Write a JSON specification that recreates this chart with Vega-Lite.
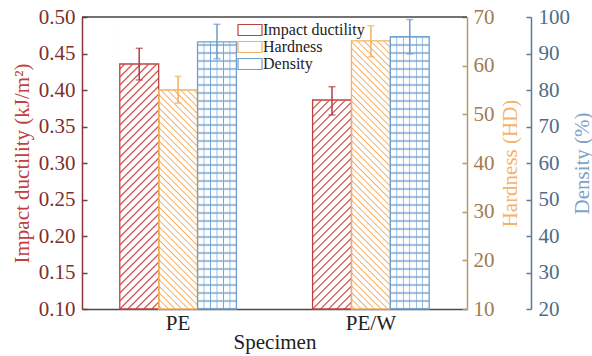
{
"$schema":"https://vega.github.io/schema/vega-lite/v6.json",
"width":385,"height":292,
"autosize":{"type":"none"},
"padding":{"left":82,"top":17,"right":125,"bottom":47},
"config":{"view":{"stroke":null},"font":"Liberation Serif","axis":{"grid":false,"titleFontWeight":"normal","labelFont":"Liberation Serif","titleFont":"Liberation Serif","labelFontSize":21,"titleFontSize":21,"tickWidth":1.5,"domainWidth":1.5},"legend":{"labelFont":"Liberation Serif","titleFont":"Liberation Serif"}},
"data":{"values":[
{"Specimen":"PE","Property":"Impact ductility","value":0.4356,"lo":0.4137,"hi":0.4571},
{"Specimen":"PE","Property":"Hardness","value":55.0,"lo":52.3,"hi":57.8},
{"Specimen":"PE","Property":"Density","value":93.2,"lo":88.6,"hi":98.0},
{"Specimen":"PE/W","Property":"Impact ductility","value":0.3863,"lo":0.3658,"hi":0.4045},
{"Specimen":"PE/W","Property":"Hardness","value":65.1,"lo":61.8,"hi":68.2},
{"Specimen":"PE/W","Property":"Density","value":94.6,"lo":89.9,"hi":99.3}
]},
"resolve":{"scale":{"y":"independent"},"axis":{"y":"independent"}},
"layer":[
{"transform":[{"filter":"datum.Property === 'Impact ductility'"}],
 "mark":{"type":"bar","fill":{"gradient":"linear","x1":0,"y1":0,"x2":0.17922,"y2":1.346,"stops":[
{"offset":0.006,"color":"#fff"},{"offset":0.01,"color":"#c33f3e"},{"offset":0.014,"color":"#fff"},
{"offset":0.026,"color":"#fff"},{"offset":0.03,"color":"#c33f3e"},{"offset":0.034,"color":"#fff"},
{"offset":0.046,"color":"#fff"},{"offset":0.05,"color":"#c33f3e"},{"offset":0.054,"color":"#fff"},
{"offset":0.066,"color":"#fff"},{"offset":0.07,"color":"#c33f3e"},{"offset":0.074,"color":"#fff"},
{"offset":0.086,"color":"#fff"},{"offset":0.09,"color":"#c33f3e"},{"offset":0.094,"color":"#fff"},
{"offset":0.106,"color":"#fff"},{"offset":0.11,"color":"#c33f3e"},{"offset":0.114,"color":"#fff"},
{"offset":0.126,"color":"#fff"},{"offset":0.13,"color":"#c33f3e"},{"offset":0.134,"color":"#fff"},
{"offset":0.146,"color":"#fff"},{"offset":0.15,"color":"#c33f3e"},{"offset":0.154,"color":"#fff"},
{"offset":0.166,"color":"#fff"},{"offset":0.17,"color":"#c33f3e"},{"offset":0.174,"color":"#fff"},
{"offset":0.186,"color":"#fff"},{"offset":0.19,"color":"#c33f3e"},{"offset":0.194,"color":"#fff"},
{"offset":0.206,"color":"#fff"},{"offset":0.21,"color":"#c33f3e"},{"offset":0.214,"color":"#fff"},
{"offset":0.226,"color":"#fff"},{"offset":0.23,"color":"#c33f3e"},{"offset":0.234,"color":"#fff"},
{"offset":0.246,"color":"#fff"},{"offset":0.25,"color":"#c33f3e"},{"offset":0.254,"color":"#fff"},
{"offset":0.266,"color":"#fff"},{"offset":0.27,"color":"#c33f3e"},{"offset":0.274,"color":"#fff"},
{"offset":0.286,"color":"#fff"},{"offset":0.29,"color":"#c33f3e"},{"offset":0.294,"color":"#fff"},
{"offset":0.306,"color":"#fff"},{"offset":0.31,"color":"#c33f3e"},{"offset":0.314,"color":"#fff"},
{"offset":0.326,"color":"#fff"},{"offset":0.33,"color":"#c33f3e"},{"offset":0.334,"color":"#fff"},
{"offset":0.346,"color":"#fff"},{"offset":0.35,"color":"#c33f3e"},{"offset":0.354,"color":"#fff"},
{"offset":0.366,"color":"#fff"},{"offset":0.37,"color":"#c33f3e"},{"offset":0.374,"color":"#fff"},
{"offset":0.386,"color":"#fff"},{"offset":0.39,"color":"#c33f3e"},{"offset":0.394,"color":"#fff"},
{"offset":0.406,"color":"#fff"},{"offset":0.41,"color":"#c33f3e"},{"offset":0.414,"color":"#fff"},
{"offset":0.426,"color":"#fff"},{"offset":0.43,"color":"#c33f3e"},{"offset":0.434,"color":"#fff"},
{"offset":0.446,"color":"#fff"},{"offset":0.45,"color":"#c33f3e"},{"offset":0.454,"color":"#fff"},
{"offset":0.466,"color":"#fff"},{"offset":0.47,"color":"#c33f3e"},{"offset":0.474,"color":"#fff"},
{"offset":0.486,"color":"#fff"},{"offset":0.49,"color":"#c33f3e"},{"offset":0.494,"color":"#fff"},
{"offset":0.506,"color":"#fff"},{"offset":0.51,"color":"#c33f3e"},{"offset":0.514,"color":"#fff"},
{"offset":0.526,"color":"#fff"},{"offset":0.53,"color":"#c33f3e"},{"offset":0.534,"color":"#fff"},
{"offset":0.546,"color":"#fff"},{"offset":0.55,"color":"#c33f3e"},{"offset":0.554,"color":"#fff"},
{"offset":0.566,"color":"#fff"},{"offset":0.57,"color":"#c33f3e"},{"offset":0.574,"color":"#fff"},
{"offset":0.586,"color":"#fff"},{"offset":0.59,"color":"#c33f3e"},{"offset":0.594,"color":"#fff"},
{"offset":0.606,"color":"#fff"},{"offset":0.61,"color":"#c33f3e"},{"offset":0.614,"color":"#fff"},
{"offset":0.626,"color":"#fff"},{"offset":0.63,"color":"#c33f3e"},{"offset":0.634,"color":"#fff"},
{"offset":0.646,"color":"#fff"},{"offset":0.65,"color":"#c33f3e"},{"offset":0.654,"color":"#fff"},
{"offset":0.666,"color":"#fff"},{"offset":0.67,"color":"#c33f3e"},{"offset":0.674,"color":"#fff"},
{"offset":0.686,"color":"#fff"},{"offset":0.69,"color":"#c33f3e"},{"offset":0.694,"color":"#fff"},
{"offset":0.706,"color":"#fff"},{"offset":0.71,"color":"#c33f3e"},{"offset":0.714,"color":"#fff"},
{"offset":0.726,"color":"#fff"},{"offset":0.73,"color":"#c33f3e"},{"offset":0.734,"color":"#fff"},
{"offset":0.746,"color":"#fff"},{"offset":0.75,"color":"#c33f3e"},{"offset":0.754,"color":"#fff"},
{"offset":0.766,"color":"#fff"},{"offset":0.77,"color":"#c33f3e"},{"offset":0.774,"color":"#fff"},
{"offset":0.786,"color":"#fff"},{"offset":0.79,"color":"#c33f3e"},{"offset":0.794,"color":"#fff"},
{"offset":0.806,"color":"#fff"},{"offset":0.81,"color":"#c33f3e"},{"offset":0.814,"color":"#fff"},
{"offset":0.826,"color":"#fff"},{"offset":0.83,"color":"#c33f3e"},{"offset":0.834,"color":"#fff"}
 ]}},
 "encoding":{
  "x":{"field":"Specimen","type":"nominal","scale":{"paddingInner":0.395,"paddingOuter":0.196},"axis":{"title":"Specimen","orient":"bottom","labelAngle":0,"labelColor":"#222","labelPadding":7,"tickSize":-4,"tickWidth":1,"tickColor":"#222","domainColor":"#4a4a4a","titleColor":"#222","titlePadding":-2}},
  "xOffset":{"field":"Property","type":"nominal","scale":{"domain":["Impact ductility","Hardness","Density"],"paddingInner":0,"paddingOuter":0}},
  "y":{"datum":0.5,"type":"quantitative","scale":{"domain":[0.1,0.5],"nice":false},"axis":{"orient":"left","title":"Impact ductility (kJ/m²)","values":[0.1,0.15,0.2,0.25,0.3,0.35,0.4,0.45,0.5],"format":".2f","tickSize":-5,"tickColor":"#8a3535","domainColor":"#8a3535","labelColor":"#7d3030","labelPadding":12,"titleColor":"#c0413f","titleAngle":-90,"titleX":-60,"titleY":146,"titleAlign":"center","titleBaseline":"middle"}},
  "y2":{"datum":0.1}}},
{"transform":[{"filter":"datum.Property === 'Hardness'"}],
 "mark":{"type":"bar","fill":{"gradient":"linear","x1":0,"y1":1,"x2":0.14786,"y2":-0.11045,"stops":[
{"offset":0.006,"color":"#fff"},{"offset":0.01,"color":"#f3ad5f"},{"offset":0.014,"color":"#fff"},
{"offset":0.026,"color":"#fff"},{"offset":0.03,"color":"#f3ad5f"},{"offset":0.034,"color":"#fff"},
{"offset":0.046,"color":"#fff"},{"offset":0.05,"color":"#f3ad5f"},{"offset":0.054,"color":"#fff"},
{"offset":0.066,"color":"#fff"},{"offset":0.07,"color":"#f3ad5f"},{"offset":0.074,"color":"#fff"},
{"offset":0.086,"color":"#fff"},{"offset":0.09,"color":"#f3ad5f"},{"offset":0.094,"color":"#fff"},
{"offset":0.106,"color":"#fff"},{"offset":0.11,"color":"#f3ad5f"},{"offset":0.114,"color":"#fff"},
{"offset":0.126,"color":"#fff"},{"offset":0.13,"color":"#f3ad5f"},{"offset":0.134,"color":"#fff"},
{"offset":0.146,"color":"#fff"},{"offset":0.15,"color":"#f3ad5f"},{"offset":0.154,"color":"#fff"},
{"offset":0.166,"color":"#fff"},{"offset":0.17,"color":"#f3ad5f"},{"offset":0.174,"color":"#fff"},
{"offset":0.186,"color":"#fff"},{"offset":0.19,"color":"#f3ad5f"},{"offset":0.194,"color":"#fff"},
{"offset":0.206,"color":"#fff"},{"offset":0.21,"color":"#f3ad5f"},{"offset":0.214,"color":"#fff"},
{"offset":0.226,"color":"#fff"},{"offset":0.23,"color":"#f3ad5f"},{"offset":0.234,"color":"#fff"},
{"offset":0.246,"color":"#fff"},{"offset":0.25,"color":"#f3ad5f"},{"offset":0.254,"color":"#fff"},
{"offset":0.266,"color":"#fff"},{"offset":0.27,"color":"#f3ad5f"},{"offset":0.274,"color":"#fff"},
{"offset":0.286,"color":"#fff"},{"offset":0.29,"color":"#f3ad5f"},{"offset":0.294,"color":"#fff"},
{"offset":0.306,"color":"#fff"},{"offset":0.31,"color":"#f3ad5f"},{"offset":0.314,"color":"#fff"},
{"offset":0.326,"color":"#fff"},{"offset":0.33,"color":"#f3ad5f"},{"offset":0.334,"color":"#fff"},
{"offset":0.346,"color":"#fff"},{"offset":0.35,"color":"#f3ad5f"},{"offset":0.354,"color":"#fff"},
{"offset":0.366,"color":"#fff"},{"offset":0.37,"color":"#f3ad5f"},{"offset":0.374,"color":"#fff"},
{"offset":0.386,"color":"#fff"},{"offset":0.39,"color":"#f3ad5f"},{"offset":0.394,"color":"#fff"},
{"offset":0.406,"color":"#fff"},{"offset":0.41,"color":"#f3ad5f"},{"offset":0.414,"color":"#fff"},
{"offset":0.426,"color":"#fff"},{"offset":0.43,"color":"#f3ad5f"},{"offset":0.434,"color":"#fff"},
{"offset":0.446,"color":"#fff"},{"offset":0.45,"color":"#f3ad5f"},{"offset":0.454,"color":"#fff"},
{"offset":0.466,"color":"#fff"},{"offset":0.47,"color":"#f3ad5f"},{"offset":0.474,"color":"#fff"},
{"offset":0.486,"color":"#fff"},{"offset":0.49,"color":"#f3ad5f"},{"offset":0.494,"color":"#fff"},
{"offset":0.506,"color":"#fff"},{"offset":0.51,"color":"#f3ad5f"},{"offset":0.514,"color":"#fff"},
{"offset":0.526,"color":"#fff"},{"offset":0.53,"color":"#f3ad5f"},{"offset":0.534,"color":"#fff"},
{"offset":0.546,"color":"#fff"},{"offset":0.55,"color":"#f3ad5f"},{"offset":0.554,"color":"#fff"},
{"offset":0.566,"color":"#fff"},{"offset":0.57,"color":"#f3ad5f"},{"offset":0.574,"color":"#fff"},
{"offset":0.586,"color":"#fff"},{"offset":0.59,"color":"#f3ad5f"},{"offset":0.594,"color":"#fff"},
{"offset":0.606,"color":"#fff"},{"offset":0.61,"color":"#f3ad5f"},{"offset":0.614,"color":"#fff"},
{"offset":0.626,"color":"#fff"},{"offset":0.63,"color":"#f3ad5f"},{"offset":0.634,"color":"#fff"},
{"offset":0.646,"color":"#fff"},{"offset":0.65,"color":"#f3ad5f"},{"offset":0.654,"color":"#fff"},
{"offset":0.666,"color":"#fff"},{"offset":0.67,"color":"#f3ad5f"},{"offset":0.674,"color":"#fff"},
{"offset":0.686,"color":"#fff"},{"offset":0.69,"color":"#f3ad5f"},{"offset":0.694,"color":"#fff"},
{"offset":0.706,"color":"#fff"},{"offset":0.71,"color":"#f3ad5f"},{"offset":0.714,"color":"#fff"},
{"offset":0.726,"color":"#fff"},{"offset":0.73,"color":"#f3ad5f"},{"offset":0.734,"color":"#fff"},
{"offset":0.746,"color":"#fff"},{"offset":0.75,"color":"#f3ad5f"},{"offset":0.754,"color":"#fff"},
{"offset":0.766,"color":"#fff"},{"offset":0.77,"color":"#f3ad5f"},{"offset":0.774,"color":"#fff"},
{"offset":0.786,"color":"#fff"},{"offset":0.79,"color":"#f3ad5f"},{"offset":0.794,"color":"#fff"},
{"offset":0.806,"color":"#fff"},{"offset":0.81,"color":"#f3ad5f"},{"offset":0.814,"color":"#fff"},
{"offset":0.826,"color":"#fff"},{"offset":0.83,"color":"#f3ad5f"},{"offset":0.834,"color":"#fff"},
{"offset":0.846,"color":"#fff"},{"offset":0.85,"color":"#f3ad5f"},{"offset":0.854,"color":"#fff"},
{"offset":0.866,"color":"#fff"},{"offset":0.87,"color":"#f3ad5f"},{"offset":0.874,"color":"#fff"},
{"offset":0.886,"color":"#fff"},{"offset":0.89,"color":"#f3ad5f"},{"offset":0.894,"color":"#fff"},
{"offset":0.906,"color":"#fff"},{"offset":0.91,"color":"#f3ad5f"},{"offset":0.914,"color":"#fff"},
{"offset":0.926,"color":"#fff"},{"offset":0.93,"color":"#f3ad5f"},{"offset":0.934,"color":"#fff"},
{"offset":0.946,"color":"#fff"},{"offset":0.95,"color":"#f3ad5f"},{"offset":0.954,"color":"#fff"},
{"offset":0.966,"color":"#fff"},{"offset":0.97,"color":"#f3ad5f"},{"offset":0.974,"color":"#fff"},
{"offset":0.986,"color":"#fff"},{"offset":0.99,"color":"#f3ad5f"},{"offset":0.994,"color":"#fff"}
 ]}},
 "encoding":{
  "x":{"field":"Specimen","type":"nominal","scale":{"paddingInner":0.395,"paddingOuter":0.196},"axis":{"title":"Specimen","orient":"bottom","labelAngle":0,"labelColor":"#222","labelPadding":7,"tickSize":-4,"tickWidth":1,"tickColor":"#222","domainColor":"#4a4a4a","titleColor":"#222","titlePadding":-2}},
  "xOffset":{"field":"Property","type":"nominal","scale":{"domain":["Impact ductility","Hardness","Density"],"paddingInner":0,"paddingOuter":0}},
  "y":{"datum":70,"type":"quantitative","scale":{"domain":[10,70],"nice":false},"axis":{"orient":"right","title":"Hardness (HD)","values":[10,20,30,40,50,60,70],"tickSize":-5,"tickColor":"#b39a72","domainColor":"#b39a72","labelColor":"#a07c4f","labelPadding":11,"titleColor":"#f5b26b","titleAngle":-90,"titleX":43,"titleY":146,"titleAlign":"center","titleBaseline":"middle"}},
  "y2":{"datum":10}}},
{"transform":[{"filter":"datum.Property === 'Density'"}],
 "mark":{"type":"bar","fill":{"gradient":"linear","x1":0,"y1":0,"x2":0,"y2":1.36986,"stops":[
{"offset":0.006,"color":"#fff"},{"offset":0.01,"color":"#78a4d0"},{"offset":0.014,"color":"#fff"},
{"offset":0.026,"color":"#fff"},{"offset":0.03,"color":"#78a4d0"},{"offset":0.034,"color":"#fff"},
{"offset":0.046,"color":"#fff"},{"offset":0.05,"color":"#78a4d0"},{"offset":0.054,"color":"#fff"},
{"offset":0.066,"color":"#fff"},{"offset":0.07,"color":"#78a4d0"},{"offset":0.074,"color":"#fff"},
{"offset":0.086,"color":"#fff"},{"offset":0.09,"color":"#78a4d0"},{"offset":0.094,"color":"#fff"},
{"offset":0.106,"color":"#fff"},{"offset":0.11,"color":"#78a4d0"},{"offset":0.114,"color":"#fff"},
{"offset":0.126,"color":"#fff"},{"offset":0.13,"color":"#78a4d0"},{"offset":0.134,"color":"#fff"},
{"offset":0.146,"color":"#fff"},{"offset":0.15,"color":"#78a4d0"},{"offset":0.154,"color":"#fff"},
{"offset":0.166,"color":"#fff"},{"offset":0.17,"color":"#78a4d0"},{"offset":0.174,"color":"#fff"},
{"offset":0.186,"color":"#fff"},{"offset":0.19,"color":"#78a4d0"},{"offset":0.194,"color":"#fff"},
{"offset":0.206,"color":"#fff"},{"offset":0.21,"color":"#78a4d0"},{"offset":0.214,"color":"#fff"},
{"offset":0.226,"color":"#fff"},{"offset":0.23,"color":"#78a4d0"},{"offset":0.234,"color":"#fff"},
{"offset":0.246,"color":"#fff"},{"offset":0.25,"color":"#78a4d0"},{"offset":0.254,"color":"#fff"},
{"offset":0.266,"color":"#fff"},{"offset":0.27,"color":"#78a4d0"},{"offset":0.274,"color":"#fff"},
{"offset":0.286,"color":"#fff"},{"offset":0.29,"color":"#78a4d0"},{"offset":0.294,"color":"#fff"},
{"offset":0.306,"color":"#fff"},{"offset":0.31,"color":"#78a4d0"},{"offset":0.314,"color":"#fff"},
{"offset":0.326,"color":"#fff"},{"offset":0.33,"color":"#78a4d0"},{"offset":0.334,"color":"#fff"},
{"offset":0.346,"color":"#fff"},{"offset":0.35,"color":"#78a4d0"},{"offset":0.354,"color":"#fff"},
{"offset":0.366,"color":"#fff"},{"offset":0.37,"color":"#78a4d0"},{"offset":0.374,"color":"#fff"},
{"offset":0.386,"color":"#fff"},{"offset":0.39,"color":"#78a4d0"},{"offset":0.394,"color":"#fff"},
{"offset":0.406,"color":"#fff"},{"offset":0.41,"color":"#78a4d0"},{"offset":0.414,"color":"#fff"},
{"offset":0.426,"color":"#fff"},{"offset":0.43,"color":"#78a4d0"},{"offset":0.434,"color":"#fff"},
{"offset":0.446,"color":"#fff"},{"offset":0.45,"color":"#78a4d0"},{"offset":0.454,"color":"#fff"},
{"offset":0.466,"color":"#fff"},{"offset":0.47,"color":"#78a4d0"},{"offset":0.474,"color":"#fff"},
{"offset":0.486,"color":"#fff"},{"offset":0.49,"color":"#78a4d0"},{"offset":0.494,"color":"#fff"},
{"offset":0.506,"color":"#fff"},{"offset":0.51,"color":"#78a4d0"},{"offset":0.514,"color":"#fff"},
{"offset":0.526,"color":"#fff"},{"offset":0.53,"color":"#78a4d0"},{"offset":0.534,"color":"#fff"},
{"offset":0.546,"color":"#fff"},{"offset":0.55,"color":"#78a4d0"},{"offset":0.554,"color":"#fff"},
{"offset":0.566,"color":"#fff"},{"offset":0.57,"color":"#78a4d0"},{"offset":0.574,"color":"#fff"},
{"offset":0.586,"color":"#fff"},{"offset":0.59,"color":"#78a4d0"},{"offset":0.594,"color":"#fff"},
{"offset":0.606,"color":"#fff"},{"offset":0.61,"color":"#78a4d0"},{"offset":0.614,"color":"#fff"},
{"offset":0.626,"color":"#fff"},{"offset":0.63,"color":"#78a4d0"},{"offset":0.634,"color":"#fff"},
{"offset":0.646,"color":"#fff"},{"offset":0.65,"color":"#78a4d0"},{"offset":0.654,"color":"#fff"},
{"offset":0.666,"color":"#fff"},{"offset":0.67,"color":"#78a4d0"},{"offset":0.674,"color":"#fff"},
{"offset":0.686,"color":"#fff"},{"offset":0.69,"color":"#78a4d0"},{"offset":0.694,"color":"#fff"},
{"offset":0.706,"color":"#fff"},{"offset":0.71,"color":"#78a4d0"},{"offset":0.714,"color":"#fff"},
{"offset":0.726,"color":"#fff"},{"offset":0.73,"color":"#78a4d0"},{"offset":0.734,"color":"#fff"}
 ]}},
 "encoding":{
  "x":{"field":"Specimen","type":"nominal","scale":{"paddingInner":0.395,"paddingOuter":0.196},"axis":{"title":"Specimen","orient":"bottom","labelAngle":0,"labelColor":"#222","labelPadding":7,"tickSize":-4,"tickWidth":1,"tickColor":"#222","domainColor":"#4a4a4a","titleColor":"#222","titlePadding":-2}},
  "xOffset":{"field":"Property","type":"nominal","scale":{"domain":["Impact ductility","Hardness","Density"],"paddingInner":0,"paddingOuter":0}},
  "y":{"datum":100,"type":"quantitative","scale":{"domain":[20,100],"nice":false},"axis":{"orient":"right","offset":64,"title":"Density (%)","values":[20,30,40,50,60,70,80,90,100],"tickSize":-5,"tickColor":"#5e7b96","domainColor":"#5e7b96","labelColor":"#4e6c88","labelPadding":12,"titleColor":"#7ea3c9","titleAngle":-90,"titleX":51,"titleY":146,"titleAlign":"center","titleBaseline":"middle"}},
  "y2":{"datum":20}}},
{"transform":[{"filter":"datum.Property === 'Density'"}],
 "mark":{"type":"bar","fill":{"gradient":"linear","x1":0,"y1":0,"x2":1,"y2":0,"stops":[
{"offset":0.1467,"color":"rgba(120,164,208,0)"},{"offset":0.1667,"color":"#78a4d0"},{"offset":0.1867,"color":"rgba(120,164,208,0)"},
{"offset":0.3133,"color":"rgba(120,164,208,0)"},{"offset":0.3333,"color":"#78a4d0"},{"offset":0.3533,"color":"rgba(120,164,208,0)"},
{"offset":0.48,"color":"rgba(120,164,208,0)"},{"offset":0.5,"color":"#78a4d0"},{"offset":0.52,"color":"rgba(120,164,208,0)"},
{"offset":0.6467,"color":"rgba(120,164,208,0)"},{"offset":0.6667,"color":"#78a4d0"},{"offset":0.6867,"color":"rgba(120,164,208,0)"},
{"offset":0.8133,"color":"rgba(120,164,208,0)"},{"offset":0.8333,"color":"#78a4d0"},{"offset":0.8533,"color":"rgba(120,164,208,0)"}
 ]}},
 "encoding":{
  "x":{"field":"Specimen","type":"nominal","scale":{"paddingInner":0.395,"paddingOuter":0.196},"axis":{"title":"Specimen","orient":"bottom","labelAngle":0,"labelColor":"#222","labelPadding":7,"tickSize":-4,"tickWidth":1,"tickColor":"#222","domainColor":"#4a4a4a","titleColor":"#222","titlePadding":-2}},
  "xOffset":{"field":"Property","type":"nominal","scale":{"domain":["Impact ductility","Hardness","Density"],"paddingInner":0,"paddingOuter":0}},
  "y":{"datum":100,"type":"quantitative","scale":{"domain":[20,100],"nice":false},"axis":null},
  "y2":{"datum":20}}},
{"transform":[{"filter":"datum.Property === 'Impact ductility'"}],
 "mark":{"type":"bar","fill":"#fff","stroke":"#fff","strokeWidth":1},
 "encoding":{
  "x":{"field":"Specimen","type":"nominal","scale":{"paddingInner":0.395,"paddingOuter":0.196},"axis":{"title":"Specimen","orient":"bottom","labelAngle":0,"labelColor":"#222","labelPadding":7,"tickSize":-4,"tickWidth":1,"tickColor":"#222","domainColor":"#4a4a4a","titleColor":"#222","titlePadding":-2}},
  "xOffset":{"field":"Property","type":"nominal","scale":{"domain":["Impact ductility","Hardness","Density"],"paddingInner":0,"paddingOuter":0}},
  "y":{"field":"value","type":"quantitative","scale":{"domain":[0.1,0.5],"nice":false},"axis":null},
  "y2":{"datum":0.5}}},
{"transform":[{"filter":"datum.Property === 'Hardness'"}],
 "mark":{"type":"bar","fill":"#fff","stroke":"#fff","strokeWidth":1},
 "encoding":{
  "x":{"field":"Specimen","type":"nominal","scale":{"paddingInner":0.395,"paddingOuter":0.196},"axis":{"title":"Specimen","orient":"bottom","labelAngle":0,"labelColor":"#222","labelPadding":7,"tickSize":-4,"tickWidth":1,"tickColor":"#222","domainColor":"#4a4a4a","titleColor":"#222","titlePadding":-2}},
  "xOffset":{"field":"Property","type":"nominal","scale":{"domain":["Impact ductility","Hardness","Density"],"paddingInner":0,"paddingOuter":0}},
  "y":{"field":"value","type":"quantitative","scale":{"domain":[10,70],"nice":false},"axis":null},
  "y2":{"datum":70}}},
{"transform":[{"filter":"datum.Property === 'Density'"}],
 "mark":{"type":"bar","fill":"#fff","stroke":"#fff","strokeWidth":1},
 "encoding":{
  "x":{"field":"Specimen","type":"nominal","scale":{"paddingInner":0.395,"paddingOuter":0.196},"axis":{"title":"Specimen","orient":"bottom","labelAngle":0,"labelColor":"#222","labelPadding":7,"tickSize":-4,"tickWidth":1,"tickColor":"#222","domainColor":"#4a4a4a","titleColor":"#222","titlePadding":-2}},
  "xOffset":{"field":"Property","type":"nominal","scale":{"domain":["Impact ductility","Hardness","Density"],"paddingInner":0,"paddingOuter":0}},
  "y":{"field":"value","type":"quantitative","scale":{"domain":[20,100],"nice":false},"axis":null},
  "y2":{"datum":100}}},
{"data":{"values":[{}]},
 "mark":{"type":"rule","color":"#444","strokeWidth":1.5},
 "encoding":{"y":{"datum":1,"type":"quantitative","scale":{"domain":[0,1],"nice":false},"axis":null}}},
{"transform":[{"filter":"datum.Property === 'Impact ductility'"}],
 "mark":{"type":"bar","filled":false,"strokeWidth":1.3},
 "encoding":{
  "x":{"field":"Specimen","type":"nominal","scale":{"paddingInner":0.395,"paddingOuter":0.196},"axis":{"title":"Specimen","orient":"bottom","labelAngle":0,"labelColor":"#222","labelPadding":7,"tickSize":-4,"tickWidth":1,"tickColor":"#222","domainColor":"#4a4a4a","titleColor":"#222","titlePadding":-2}},
  "xOffset":{"field":"Property","type":"nominal","scale":{"domain":["Impact ductility","Hardness","Density"],"paddingInner":0,"paddingOuter":0}},
  "y":{"field":"value","type":"quantitative","scale":{"domain":[0.1,0.5],"nice":false},"axis":null},
  "y2":{"datum":0.1},
  "stroke":{"field":"Property","type":"nominal","scale":{"domain":["Impact ductility","Hardness","Density"],"range":["#c0403f","#f5b060","#6f9fcf"]},
   "legend":{"title":null,"orient":"none","legendX":160,"legendY":5,"padding":0,"symbolType":"M-2,-0.92H2V0.92H-2Z","symbolSize":144,"symbolStrokeWidth":1.2,"symbolOpacity":1,"labelFont":"Liberation Serif","labelFontSize":16,"labelColor":"#222","labelOffset":5,"rowPadding":1,
    "encode":{"symbols":{"update":{"fill":[
     {"test":"datum.value === 'Impact ductility'","value":{"gradient":"linear","x1":0,"y1":0,"x2":1.2052,"y2":0.5524,"stops":[
{"offset":0.0597,"color":"#fff"},{"offset":0.0857,"color":"#c33f3e"},{"offset":0.1117,"color":"#fff"},
{"offset":0.2026,"color":"#fff"},{"offset":0.2286,"color":"#c33f3e"},{"offset":0.2546,"color":"#fff"},
{"offset":0.3454,"color":"#fff"},{"offset":0.3714,"color":"#c33f3e"},{"offset":0.3974,"color":"#fff"},
{"offset":0.4883,"color":"#fff"},{"offset":0.5143,"color":"#c33f3e"},{"offset":0.5403,"color":"#fff"},
{"offset":0.6311,"color":"#fff"},{"offset":0.6571,"color":"#c33f3e"},{"offset":0.6831,"color":"#fff"},
{"offset":0.774,"color":"#fff"},{"offset":0.8,"color":"#c33f3e"},{"offset":0.826,"color":"#fff"},
{"offset":0.9169,"color":"#fff"},{"offset":0.9429,"color":"#c33f3e"},{"offset":0.9689,"color":"#fff"}]}},
     {"test":"datum.value === 'Hardness'","value":{"gradient":"linear","x1":0,"y1":1,"x2":1.2052,"y2":0.4476,"stops":[
{"offset":0.0597,"color":"#fff"},{"offset":0.0857,"color":"#f3ad5f"},{"offset":0.1117,"color":"#fff"},
{"offset":0.2026,"color":"#fff"},{"offset":0.2286,"color":"#f3ad5f"},{"offset":0.2546,"color":"#fff"},
{"offset":0.3454,"color":"#fff"},{"offset":0.3714,"color":"#f3ad5f"},{"offset":0.3974,"color":"#fff"},
{"offset":0.4883,"color":"#fff"},{"offset":0.5143,"color":"#f3ad5f"},{"offset":0.5403,"color":"#fff"},
{"offset":0.6311,"color":"#fff"},{"offset":0.6571,"color":"#f3ad5f"},{"offset":0.6831,"color":"#fff"},
{"offset":0.774,"color":"#fff"},{"offset":0.8,"color":"#f3ad5f"},{"offset":0.826,"color":"#fff"},
{"offset":0.9169,"color":"#fff"},{"offset":0.9429,"color":"#f3ad5f"},{"offset":0.9689,"color":"#fff"}]}},
     {"value":"#c5d9ec"}]}}}}}}},
{"transform":[{"filter":"datum.Property === 'Hardness'"}],
 "mark":{"type":"bar","filled":false,"strokeWidth":1.3},
 "encoding":{
  "x":{"field":"Specimen","type":"nominal","scale":{"paddingInner":0.395,"paddingOuter":0.196},"axis":{"title":"Specimen","orient":"bottom","labelAngle":0,"labelColor":"#222","labelPadding":7,"tickSize":-4,"tickWidth":1,"tickColor":"#222","domainColor":"#4a4a4a","titleColor":"#222","titlePadding":-2}},
  "xOffset":{"field":"Property","type":"nominal","scale":{"domain":["Impact ductility","Hardness","Density"],"paddingInner":0,"paddingOuter":0}},
  "y":{"field":"value","type":"quantitative","scale":{"domain":[10,70],"nice":false},"axis":null},
  "y2":{"datum":10},
  "stroke":{"field":"Property","type":"nominal","legend":null}}},
{"transform":[{"filter":"datum.Property === 'Density'"}],
 "mark":{"type":"bar","filled":false,"strokeWidth":1.3},
 "encoding":{
  "x":{"field":"Specimen","type":"nominal","scale":{"paddingInner":0.395,"paddingOuter":0.196},"axis":{"title":"Specimen","orient":"bottom","labelAngle":0,"labelColor":"#222","labelPadding":7,"tickSize":-4,"tickWidth":1,"tickColor":"#222","domainColor":"#4a4a4a","titleColor":"#222","titlePadding":-2}},
  "xOffset":{"field":"Property","type":"nominal","scale":{"domain":["Impact ductility","Hardness","Density"],"paddingInner":0,"paddingOuter":0}},
  "y":{"field":"value","type":"quantitative","scale":{"domain":[20,100],"nice":false},"axis":null},
  "y2":{"datum":20},
  "stroke":{"field":"Property","type":"nominal","legend":null}}},
{"transform":[{"filter":"datum.Property === 'Impact ductility'"}],
 "encoding":{
  "x":{"field":"Specimen","type":"nominal","scale":{"paddingInner":0.395,"paddingOuter":0.196},"axis":{"title":"Specimen","orient":"bottom","labelAngle":0,"labelColor":"#222","labelPadding":7,"tickSize":-4,"tickWidth":1,"tickColor":"#222","domainColor":"#4a4a4a","titleColor":"#222","titlePadding":-2}},
  "xOffset":{"field":"Property","type":"nominal","scale":{"domain":["Impact ductility","Hardness","Density"],"paddingInner":0,"paddingOuter":0}}},
 "layer":[
  {"mark":{"type":"rule","color":"#b83c3c","strokeWidth":1.5},"encoding":{"y":{"field":"lo","type":"quantitative","scale":{"domain":[0.1,0.5],"nice":false},"axis":null},"y2":{"field":"hi"}}},
  {"mark":{"type":"tick","color":"#b83c3c","thickness":1.5,"size":7},"encoding":{"y":{"field":"lo","type":"quantitative","axis":null}}},
  {"mark":{"type":"tick","color":"#b83c3c","thickness":1.5,"size":7},"encoding":{"y":{"field":"hi","type":"quantitative","axis":null}}}]},
{"transform":[{"filter":"datum.Property === 'Hardness'"}],
 "encoding":{
  "x":{"field":"Specimen","type":"nominal","scale":{"paddingInner":0.395,"paddingOuter":0.196},"axis":{"title":"Specimen","orient":"bottom","labelAngle":0,"labelColor":"#222","labelPadding":7,"tickSize":-4,"tickWidth":1,"tickColor":"#222","domainColor":"#4a4a4a","titleColor":"#222","titlePadding":-2}},
  "xOffset":{"field":"Property","type":"nominal","scale":{"domain":["Impact ductility","Hardness","Density"],"paddingInner":0,"paddingOuter":0}}},
 "layer":[
  {"mark":{"type":"rule","color":"#f3b064","strokeWidth":1.5},"encoding":{"y":{"field":"lo","type":"quantitative","scale":{"domain":[10,70],"nice":false},"axis":null},"y2":{"field":"hi"}}},
  {"mark":{"type":"tick","color":"#f3b064","thickness":1.5,"size":7},"encoding":{"y":{"field":"lo","type":"quantitative","axis":null}}},
  {"mark":{"type":"tick","color":"#f3b064","thickness":1.5,"size":7},"encoding":{"y":{"field":"hi","type":"quantitative","axis":null}}}]},
{"transform":[{"filter":"datum.Property === 'Density'"}],
 "encoding":{
  "x":{"field":"Specimen","type":"nominal","scale":{"paddingInner":0.395,"paddingOuter":0.196},"axis":{"title":"Specimen","orient":"bottom","labelAngle":0,"labelColor":"#222","labelPadding":7,"tickSize":-4,"tickWidth":1,"tickColor":"#222","domainColor":"#4a4a4a","titleColor":"#222","titlePadding":-2}},
  "xOffset":{"field":"Property","type":"nominal","scale":{"domain":["Impact ductility","Hardness","Density"],"paddingInner":0,"paddingOuter":0}}},
 "layer":[
  {"mark":{"type":"rule","color":"#6e9dcb","strokeWidth":1.5},"encoding":{"y":{"field":"lo","type":"quantitative","scale":{"domain":[20,100],"nice":false},"axis":null},"y2":{"field":"hi"}}},
  {"mark":{"type":"tick","color":"#6e9dcb","thickness":1.5,"size":7},"encoding":{"y":{"field":"lo","type":"quantitative","axis":null}}},
  {"mark":{"type":"tick","color":"#6e9dcb","thickness":1.5,"size":7},"encoding":{"y":{"field":"hi","type":"quantitative","axis":null}}}]}
]
}
